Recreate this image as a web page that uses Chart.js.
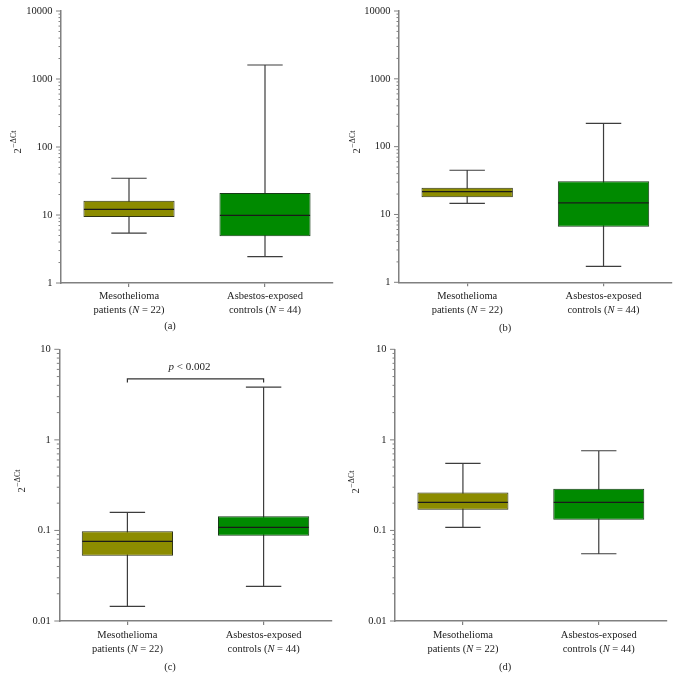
<!DOCTYPE html>
<html><head><meta charset="utf-8">
<script src="https://cdn.jsdelivr.net/npm/chart.js@4.4.1/dist/chart.umd.min.js"></script>
<style>
html,body{margin:0;padding:0;background:#fff;}
#wrap{position:relative;width:679px;height:690px;background:#fff;}
.p{position:absolute;}
canvas{display:block;}
</style></head><body>
<div id="wrap">
<div class="p" style="left:0;top:0;"><canvas id="ca" width="340" height="345"></canvas></div>
<div class="p" style="left:340px;top:0;"><canvas id="cb" width="339" height="345"></canvas></div>
<div class="p" style="left:0;top:345px;"><canvas id="cc" width="340" height="345"></canvas></div>
<div class="p" style="left:340px;top:345px;"><canvas id="cd" width="339" height="345"></canvas></div>
</div>
<script>
// ---------------- DATA ----------------
const categories = ['Mesothelioma patients (N = 22)', 'Asbestos-exposed controls (N = 44)'];
const labelLine1 = ['Mesothelioma', 'Asbestos-exposed'];
const labelLine2 = ['patients (*N* = 22)', 'controls (*N* = 44)'];
const panelNames = ['(a)', '(b)', '(c)', '(d)'];
const yTitleBase = '2';
const yTitleSup = '\u2212\u0394Ct';

// panel (a)
const aMin = [5.4, 2.44];
const aQ1 = [9.35, 4.86];
const aMed = [12.1, 9.9];
const aQ3 = [16.2, 21.0];
const aMax = [34.7, 1607];
// panel (b)
const bMin = [14.6, 1.72];
const bQ1 = [17.9, 6.6];
const bMed = [21.7, 14.8];
const bQ3 = [24.8, 30.9];
const bMax = [44.9, 221];
// panel (c)
const cMin = [0.0145, 0.0241];
const cQ1 = [0.0525, 0.0874];
const cMed = [0.0759, 0.108];
const cQ3 = [0.0977, 0.143];
const cMax = [0.158, 3.83];
// panel (d)
const dMin = [0.108, 0.0553];
const dQ1 = [0.169, 0.131];
const dMed = [0.204, 0.204];
const dQ3 = [0.263, 0.289];
const dMax = [0.55, 0.758];

const yTicksAB = [1, 10, 100, 1000, 10000];
const yTicksCD = [0.01, 0.1, 1, 10];

// significance bracket in (c)
const bracketTopC = 4.72;
const bracketEndC = 4.31;
const pTextValueC = 6.3;
const pTextC = '*p* < 0.002';

// ---------------- STYLE ----------------
const SERIF = '"Liberation Serif", "DejaVu Serif", serif';
const boxColors = ['#8c8c00', '#008a00'];
const boxBorders = ['#2e3314', '#173a17'];
const whiskerColor = '#3d3d3d';
const axisColor = '#808080';
const textColor = '#222';

function decadeMinorTicks(decades) {
  const out = [];
  for (let i = 0; i < decades.length; i++) {
    out.push(decades[i]);
    if (i < decades.length - 1) {
      for (let k = 2; k <= 9; k++) out.push(parseFloat((decades[i] * k).toPrecision(6)));
    }
  }
  return out;
}
function isMajor(v, decades) { return decades.some(t => Math.abs(t - v) / t < 1e-6); }

function drawRich(ctx, str, cx, cy, size) {
  const parts = str.split('*');
  const fonts = parts.map((p, i) => (i % 2 ? 'italic ' : '') + size + 'px ' + SERIF);
  let widths = parts.map((p, i) => { ctx.font = fonts[i]; return ctx.measureText(p).width; });
  const total = widths.reduce((a, b) => a + b, 0);
  let x = cx - total / 2;
  ctx.textAlign = 'left';
  ctx.textBaseline = 'middle';
  parts.forEach((p, i) => { ctx.font = fonts[i]; ctx.fillText(p, x, cy); x += widths[i]; });
}

function makeChart(id, idx, st, decades, L, extra) {
  const allTicks = decadeMinorTicks(decades);
  const boxData = st.q1.map((v, i) => [v, st.q3[i]]);
  const plugin = {
    id: 'boxplot' + idx,
    beforeDatasetsDraw(chart) {
      const ctx = chart.ctx, ys = chart.scales.y, xs = chart.scales.x;
      const meta = chart.getDatasetMeta(0);
      const step = xs.getPixelForValue(1) - xs.getPixelForValue(0);
      const cap = step * 0.26;
      ctx.save();
      ctx.strokeStyle = whiskerColor;
      ctx.lineWidth = 1.2;
      meta.data.forEach((bar, i) => {
        const x = xs.getPixelForValue(i);
        const y0 = ys.getPixelForValue(st.min[i]);
        const y1 = ys.getPixelForValue(st.max[i]);
        ctx.beginPath();
        ctx.moveTo(x, y0); ctx.lineTo(x, y1);
        ctx.moveTo(x - cap / 2, y0); ctx.lineTo(x + cap / 2, y0);
        ctx.moveTo(x - cap / 2, y1); ctx.lineTo(x + cap / 2, y1);
        ctx.stroke();
      });
      ctx.restore();
    },
    afterDatasetsDraw(chart) {
      const ctx = chart.ctx, ys = chart.scales.y;
      const meta = chart.getDatasetMeta(0);
      ctx.save();
      ctx.strokeStyle = '#1a1a1a';
      ctx.lineWidth = 1.2;
      meta.data.forEach((bar, i) => {
        const y = ys.getPixelForValue(st.med[i]);
        ctx.beginPath();
        ctx.moveTo(bar.x - bar.width / 2 + 0.5, y);
        ctx.lineTo(bar.x + bar.width / 2 - 0.5, y);
        ctx.stroke();
      });
      ctx.restore();
    },
    afterDraw(chart) {
      const ctx = chart.ctx, ys = chart.scales.y, xs = chart.scales.x;
      const ca = chart.chartArea;
      ctx.save();
      // y tick marks
      ctx.strokeStyle = axisColor;
      ctx.lineWidth = 1;
      ys.ticks.forEach(t => {
        const y = ys.getPixelForValue(t.value);
        const len = isMajor(t.value, decades) ? 5 : 2.5;
        ctx.beginPath();
        ctx.moveTo(ca.left - len, y); ctx.lineTo(ca.left, y);
        ctx.stroke();
      });
      // x category labels
      ctx.fillStyle = textColor;
      categories.forEach((c, i) => {
        const x = xs.getPixelForValue(i);
        drawRich(ctx, labelLine1[i], x, ca.bottom + L.l1, 10.5);
        drawRich(ctx, labelLine2[i], x, ca.bottom + L.l2, 10.5);
      });
      // panel label
      drawRich(ctx, panelNames[idx], L.labelX, ca.bottom + L.l3, 10.5);
      // y title (rotated, with superscript)
      ctx.save();
      ctx.translate(L.titleX, L.titleY);
      ctx.rotate(-Math.PI / 2);
      ctx.textAlign = 'left';
      ctx.textBaseline = 'alphabetic';
      ctx.font = '10.5px ' + SERIF;
      const w1 = ctx.measureText(yTitleBase).width;
      ctx.font = '8px ' + SERIF;
      const w2 = ctx.measureText(yTitleSup).width;
      const s = -(w1 + w2 + 0.5) / 2;
      ctx.font = '10.5px ' + SERIF;
      ctx.fillText(yTitleBase, s, 3.5);
      ctx.font = '8px ' + SERIF;
      ctx.fillText(yTitleSup, s + w1 + 0.5, -1.5);
      ctx.restore();
      // significance bracket
      if (extra) {
        const x0 = xs.getPixelForValue(0), x1 = xs.getPixelForValue(1);
        const yt = ys.getPixelForValue(extra.top), ye = ys.getPixelForValue(extra.end);
        ctx.strokeStyle = '#333';
        ctx.lineWidth = 1.2;
        ctx.beginPath();
        ctx.moveTo(x0, ye); ctx.lineTo(x0, yt); ctx.lineTo(x1, yt); ctx.lineTo(x1, ye);
        ctx.stroke();
        ctx.fillStyle = textColor;
        drawRich(ctx, extra.text, (x0 + x1) / 2 - 6, ys.getPixelForValue(extra.textValue), 11);
      }
      ctx.restore();
    }
  };
  return new Chart(document.getElementById(id), {
    type: 'bar',
    data: {
      labels: categories,
      datasets: [{
        data: boxData,
        backgroundColor: boxColors,
        borderColor: boxBorders,
        borderWidth: 1,
        borderSkipped: false,
        barPercentage: 0.67,
        categoryPercentage: 1
      }]
    },
    options: {
      responsive: false,
      animation: false,
      events: [],
      layout: { padding: { left: 0, top: L.top, right: L.right, bottom: 0 } },
      plugins: { legend: { display: false }, tooltip: { enabled: false } },
      scales: {
        x: {
          offset: true,
          grid: { display: true, offset: false, drawOnChartArea: false, drawTicks: true, tickLength: 4, color: axisColor, lineWidth: 1.2 },
          border: { display: true, color: axisColor, width: 1.5 },
          ticks: { display: false },
          afterFit(s) { s.height = L.xh; s.paddingLeft = 0; s.paddingRight = 0; }
        },
        y: {
          type: 'logarithmic',
          min: decades[0],
          max: decades[decades.length - 1],
          grid: { display: true, drawOnChartArea: false, drawTicks: false, tickLength: 0 },
          border: { display: true, color: axisColor, width: 1.5 },
          ticks: {
            autoSkip: false,
            padding: 8.5,
            color: textColor,
            font: { family: SERIF, size: 10.5 },
            callback: (v) => isMajor(v, decades) ? String(v) : ''
          },
          afterBuildTicks(s) { s.ticks = allTicks.map(v => ({ value: v })); },
          afterFit(s) { s.width = L.left; s.paddingTop = 0; s.paddingBottom = 0; }
        }
      }
    },
    plugins: [plugin]
  });
}

makeChart('ca', 0, { min: aMin, q1: aQ1, med: aMed, q3: aQ3, max: aMax }, yTicksAB,
  { left: 61, right: 7, top: 11, xh: 62, l1: 13, l2: 27, l3: 43, labelX: 170, titleX: 17.5, titleY: 142 });
makeChart('cb', 1, { min: bMin, q1: bQ1, med: bMed, q3: bQ3, max: bMax }, yTicksAB,
  { left: 59, right: 7.3, top: 11, xh: 62.7, l1: 14, l2: 28, l3: 46, labelX: 165, titleX: 16, titleY: 142 });
makeChart('cc', 2, { min: cMin, q1: cQ1, med: cMed, q3: cQ3, max: cMax }, yTicksCD,
  { left: 59.3, right: 8.3, top: 4.3, xh: 69, l1: 14, l2: 28, l3: 46.7, labelX: 170, titleX: 21, titleY: 136 },
  { top: bracketTopC, end: bracketEndC, textValue: pTextValueC, text: pTextC });
makeChart('cd', 3, { min: dMin, q1: dQ1, med: dMed, q3: dQ3, max: dMax }, yTicksCD,
  { left: 55, right: 12.3, top: 4.3, xh: 69, l1: 14, l2: 28, l3: 46, labelX: 165, titleX: 15, titleY: 137 });
</script>
</body></html>
